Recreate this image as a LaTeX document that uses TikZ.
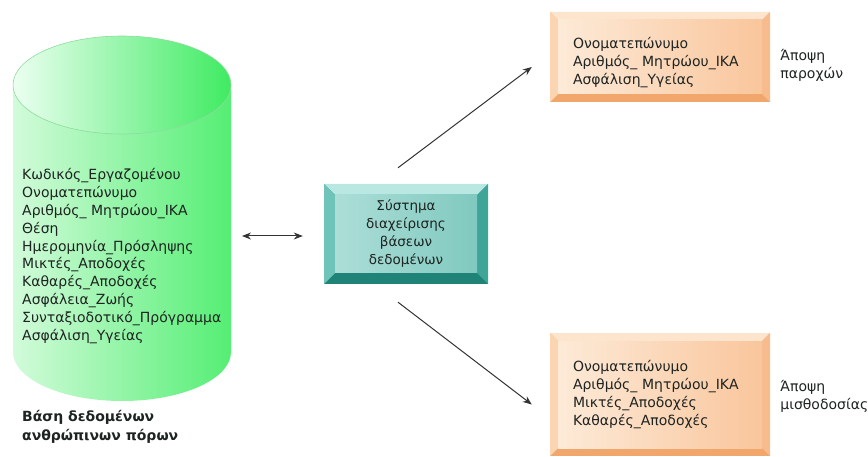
\documentclass[tikz,border=0pt]{standalone}
\usepackage{fontspec}
\setmainfont{DejaVu Sans}
\usepackage{tikz}
\usetikzlibrary{arrows.meta, positioning, calc}
\definecolor{MintTopL}{HTML}{ECFFF1}
\definecolor{MintTopR}{HTML}{3FEB62}
\definecolor{MintBodyL}{HTML}{D2FBDA}
\definecolor{MintBodyR}{HTML}{55EE74}
\definecolor{MintEdge}{HTML}{8EDC9E}
\definecolor{TealTop}{HTML}{B9E8E2}
\definecolor{TealLeft}{HTML}{6FC4B9}
\definecolor{TealRight}{HTML}{3FA598}
\definecolor{TealBottom}{HTML}{1F8377}
\definecolor{TealFaceL}{HTML}{ACDED7}
\definecolor{TealFaceR}{HTML}{80C9C0}
\definecolor{PeachTop}{HTML}{FDE4CD}
\definecolor{PeachLeft}{HTML}{FBD4B1}
\definecolor{PeachRight}{HTML}{F7BC8E}
\definecolor{PeachBottom}{HTML}{F1A76C}
\definecolor{PeachFaceL}{HTML}{FDEAD8}
\definecolor{PeachFaceR}{HTML}{F9C69C}
\definecolor{InkGray}{HTML}{333333}
\definecolor{TextDark}{HTML}{1E2422}

\tikzset{
    bevelbox/.style n args={6}{% inset, top, left, right, bottom, face
        fill=#5,
        path picture={
            \coordinate (bbnw) at (path picture bounding box.north west);
            \coordinate (bbne) at (path picture bounding box.north east);
            \coordinate (bbsw) at (path picture bounding box.south west);
            \coordinate (bbse) at (path picture bounding box.south east);
            \fill[#5] (bbsw) rectangle (bbne);
            \fill[#2] (bbnw) -- (bbne) -- ([shift={(-#1,-#1)}]bbne) -- ([shift={(#1,-#1)}]bbnw) -- cycle;
            \fill[#3] (bbnw) -- ([shift={(#1,-#1)}]bbnw) -- ([shift={(#1,#1)}]bbsw) -- (bbsw) -- cycle;
            \fill[#4] (bbne) -- ([shift={(-#1,-#1)}]bbne) -- ([shift={(-#1,#1)}]bbse) -- (bbse) -- cycle;
            \shade[#6] ([shift={(#1,-#1)}]bbnw) rectangle ([shift={(-#1,#1)}]bbse);
        }
    },
    sysbox/.style={minimum width=164pt, minimum height=100pt, inner sep=0pt, align=center,
        text=TextDark, font=\fontsize{13.5}{18}\selectfont,
        bevelbox={11pt}{TealTop}{TealLeft}{TealRight}{TealBottom}{left color=TealFaceL, right color=TealFaceR}},
    viewbox/.style={minimum width=220pt, inner sep=0pt,
        bevelbox={8pt}{PeachTop}{PeachLeft}{PeachRight}{PeachBottom}{left color=PeachFaceL, right color=PeachFaceR}},
    fields/.style={inner sep=0pt, align=left, text=TextDark, font=\fontsize{14}{17.8}\selectfont},
    viewlabel/.style={inner sep=0pt, align=left, text=TextDark, font=\fontsize{14}{18}\selectfont},
    link/.style={draw=InkGray, line width=1pt, -{Stealth[length=9pt,width=7pt]}},
    bilink/.style={draw=InkGray, line width=1pt, {Stealth[length=9pt,width=7pt]}-{Stealth[length=9pt,width=7pt]}},
}

\begin{document}
\begin{tikzpicture}[x=1pt, y=-1pt]
    \useasboundingbox (0,0) rectangle (868,457);

    % Human resources database
    \shade[left color=MintBodyL, right color=MintBodyR] (13,85) -- (13,352)
        arc[start angle=180, end angle=0, x radius=109, y radius=49] -- (231,85) -- cycle;
    \shade[left color=MintTopL, right color=MintTopR, draw=MintEdge, line width=0.6pt]
        (122,85) ellipse [x radius=109, y radius=49];
    \coordinate (dbside) at (231,236);
    \node[fields, anchor=west] (dbfields) at (22,256) {Κωδικός\_Εργαζομένου\\Ονοματεπώνυμο\\Αριθμός\_ Μητρώου\_ΙΚΑ\\Θέση\\Ημερομηνία\_Πρόσληψης\\Μικτές\_Αποδοχές\\Καθαρές\_Αποδοχές\\Ασφάλεια\_Ζωής\\Συνταξιοδοτικό\_Πρόγραμμα\\Ασφάλιση\_Υγείας};
    \node[fields, anchor=west, font=\bfseries\fontsize{14}{19.5}\selectfont] (dbname) at (22,427) {Βάση δεδομένων\\ανθρώπινων πόρων};

    % Database management system
    \node[sysbox] (sys) at (406,234) {Σύστημα\\διαχείρισης\\βάσεων\\δεδομένων};

    % Benefits view
    \node[viewbox, minimum height=90pt] (prov) at (660,57) {};
    \node[fields, text width=174pt] (provfields) at ([yshift=-5.5pt]prov.center) {Ονοματεπώνυμο\\Αριθμός\_ Μητρώου\_ΙΚΑ\\Ασφάλιση\_Υγείας};
    \node[viewlabel, right=10pt of prov, yshift=-8pt] (provname) {Άποψη\\παροχών};

    % Payroll view
    \node[viewbox, minimum height=123pt] (pay) at (660,394.5) {};
    \node[fields, text width=174pt] (payfields) at (pay.center) {Ονοματεπώνυμο\\Αριθμός\_ Μητρώου\_ΙΚΑ\\Μικτές\_Αποδοχές\\Καθαρές\_Αποδοχές};
    \node[viewlabel, right=10pt of pay, yshift=-2pt] (payname) {Άποψη\\μισθοδοσίας};

    % Connectors
    \draw[bilink, shorten <=11pt, shorten >=21pt] (dbside) -- (sys.west |- dbside);
    \draw[link] ([xshift=-8pt,yshift=16pt]sys.north) -- ([xshift=-18pt,yshift=-10pt]prov.west);
    \draw[link] ([xshift=-8pt,yshift=-18pt]sys.south) -- ([xshift=-18pt,yshift=-10pt]pay.west);
\end{tikzpicture}
\end{document}
